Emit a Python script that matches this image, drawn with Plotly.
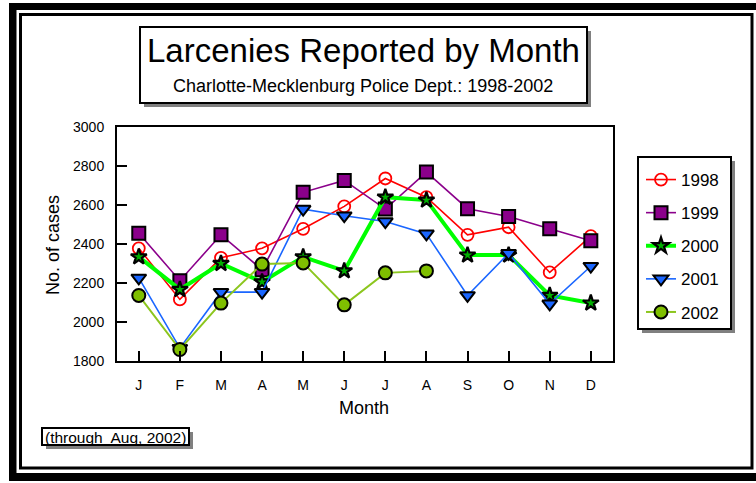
import plotly.graph_objects as go

# ---- data ----
months = ["J", "F", "M", "A", "M", "J", "J", "A", "S", "O", "N", "D"]
month_num = list(range(1, 13))
y1998 = [2378, 2116, 2329, 2378, 2478, 2593, 2736, 2640, 2447, 2486, 2254, 2440]
y1999 = [2455, 2212, 2447, 2268, 2665, 2726, 2579, 2769, 2581, 2541, 2478, 2417]
y2000 = [2334, 2167, 2300, 2205, 2334, 2262, 2640, 2625, 2343, 2343, 2136, 2097]
y2001 = [2226, 1866, 2153, 2153, 2579, 2545, 2515, 2452, 2136, 2352, 2093, 2286]
y2002 = [2136, 1859, 2097, 2297, 2303, 2088, 2252, 2262]
yticks = [1800, 2000, 2200, 2400, 2600, 2800, 3000]

W, H = 756, 483
def px(x):
    return x / W
def py(y):
    return 1 - y / H

FONT = "Liberation Sans, Arial, sans-serif"

fig = go.Figure()

series = [
    ("1998", y1998, dict(color="#FF0000", width=1.6),
     dict(symbol="circle-open", size=12, color="#FF0000", line=dict(color="#FF0000", width=1.8))),
    ("1999", y1999, dict(color="#8B008B", width=1.6),
     dict(symbol="square", size=13, color="#8B008B", line=dict(color="#000000", width=2))),
    ("2000", y2000, dict(color="#00FF00", width=4),
     dict(symbol="star", size=12, color="#00B000", line=dict(color="#000000", width=2.2))),
    ("2001", y2001, dict(color="#1A66FF", width=1.6),
     dict(symbol="triangle-down", size=13, color="#1A66FF", line=dict(color="#000000", width=2))),
    ("2002", y2002, dict(color="#8CC61E", width=2),
     dict(symbol="circle", size=13, color="#7FBF00", line=dict(color="#000000", width=2))),
]

for name, ys, ln, mk in series:
    fig.add_trace(go.Scatter(
        x=month_num[:len(ys)], y=ys, name=name, mode="lines+markers",
        line=ln, marker=mk, legendgroup=name, cliponaxis=False,
    ))

shapes = []
# outer black frame bands
shapes.append(dict(type="rect", xref="paper", yref="paper",
                   x0=px(9), x1=px(756), y0=py(481), y1=py(3),
                   fillcolor="black", line=dict(width=0), layer="below"))
shapes.append(dict(type="rect", xref="paper", yref="paper",
                   x0=px(16.5), x1=px(756), y0=py(473), y1=py(10),
                   fillcolor="white", line=dict(width=0), layer="below"))
shapes.append(dict(type="rect", xref="paper", yref="paper",
                   x0=px(20.5), x1=px(752), y0=py(468), y1=py(14.5),
                   fillcolor="rgba(0,0,0,0)", line=dict(color="black", width=3), layer="below"))

def boxed(x0, y0, x1, y1, sh=4, lw=2):
    # gray shadow then white box with black border
    shapes.append(dict(type="rect", xref="paper", yref="paper",
                       x0=px(x0 + sh), x1=px(x1 + sh), y0=py(y1 + sh), y1=py(y0 + sh),
                       fillcolor="#808080", line=dict(width=0), layer="below"))
    shapes.append(dict(type="rect", xref="paper", yref="paper",
                       x0=px(x0), x1=px(x1), y0=py(y1), y1=py(y0),
                       fillcolor="white", line=dict(color="black", width=lw), layer="below"))

boxed(140, 27, 587, 103)       # title box
boxed(638, 157, 731, 329)      # legend box
boxed(42, 428, 189, 445, sh=4, lw=2)  # note box

annotations = [
    dict(text="Larcenies Reported by Month", x=px(363), y=py(50), xref="paper", yref="paper",
         showarrow=False, font=dict(family=FONT, size=33, color="black"), xanchor="center", yanchor="middle"),
    dict(text="Charlotte-Mecklenburg Police Dept.: 1998-2002", x=px(363), y=py(86), xref="paper", yref="paper",
         showarrow=False, font=dict(family=FONT, size=18, color="black"), xanchor="center", yanchor="middle"),
    dict(text="No. of cases", x=px(53), y=py(245), xref="paper", yref="paper", textangle=-90,
         showarrow=False, font=dict(family=FONT, size=18, color="black"), xanchor="center", yanchor="middle"),
    dict(text="Month", x=px(364), y=py(408), xref="paper", yref="paper",
         showarrow=False, font=dict(family=FONT, size=18, color="black"), xanchor="center", yanchor="middle"),
    dict(text="(through  Aug, 2002)", x=px(115.5), y=py(437), xref="paper", yref="paper",
         showarrow=False, font=dict(family=FONT, size=15.5, color="black"), xanchor="center", yanchor="middle"),
]

fig.update_layout(
    width=W, height=H, autosize=False,
    margin=dict(l=0, r=0, t=0, b=0, pad=0),
    paper_bgcolor="white", plot_bgcolor="white",
    font=dict(family=FONT, color="black"),
    shapes=shapes, annotations=annotations,
    showlegend=True,
    legend=dict(x=px(641), y=py(162), xanchor="left", yanchor="top",
                bgcolor="rgba(0,0,0,0)", borderwidth=0,
                font=dict(family=FONT, size=17, color="black"),
                itemwidth=30, tracegroupgap=8, traceorder="grouped"),
    xaxis=dict(domain=[px(117), px(613)], range=[0.47, 12.54],
               tickvals=month_num, ticktext=months,
               ticks="inside", ticklen=10, tickwidth=2, tickcolor="black",
               showline=True, linewidth=2, linecolor="black", mirror=True,
               showgrid=False, zeroline=False, automargin=False,
               tickfont=dict(family=FONT, size=14, color="black"), ticklabelstandoff=10),
    yaxis=dict(domain=[py(361), py(127)], range=[1800, 3000],
               tickvals=yticks,
               ticks="inside", ticklen=10, tickwidth=2, tickcolor="black",
               showline=True, linewidth=2, linecolor="black", mirror=True,
               showgrid=False, zeroline=False, automargin=False,
               tickfont=dict(family=FONT, size=14, color="black"), ticklabelstandoff=8),
)

fig.write_html("out.html", config={"displayModeBar": False},
               post_script="document.body.style.margin='0';")
